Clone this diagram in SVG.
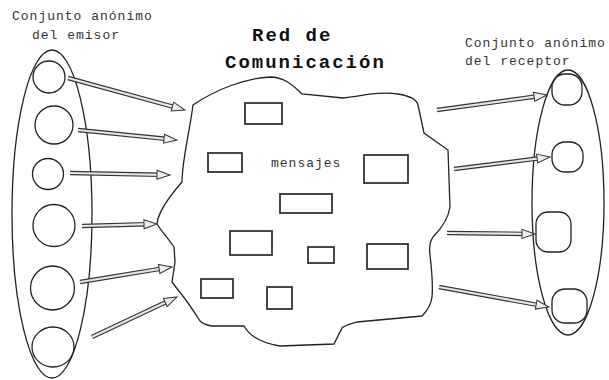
<svg xmlns="http://www.w3.org/2000/svg" width="609" height="380" viewBox="0 0 609 380">
<style>
.t{font-family:"Liberation Mono","DejaVu Sans Mono",monospace;font-size:13px;letter-spacing:1px;fill:#333}
.ti{font-family:"Liberation Mono","DejaVu Sans Mono",monospace;font-size:19px;font-weight:bold;letter-spacing:2px;fill:#111}
.o{fill:none;stroke:#222;stroke-width:1.3}
.b{fill:#fff;stroke:#333;stroke-width:1.8}
.sh{stroke:#333;stroke-width:4.5;fill:none}
.in{stroke:#e6e6e6;stroke-width:2.2;fill:none}
</style>
<defs>
<marker id="ah" markerUnits="userSpaceOnUse" markerWidth="16" markerHeight="12" refX="4" refY="4.5" orient="auto" overflow="visible">
<path d="M0,0 L13,4.5 L0,9 Z" fill="#eee" stroke="#333" stroke-width="1"/>
</marker>
</defs>
<rect width="609" height="380" fill="#fff"/>
<g id="title">
<text class="ti" x="252" y="41">Red de</text>
<text class="ti" x="225" y="68">Comunicación</text>
</g>
<g id="emisor">
<text class="t" x="12" y="20">Conjunto anónimo</text>
<text class="t" x="32" y="39">del emisor</text>
<ellipse class="o" cx="52" cy="214" rx="40" ry="164"/>
<circle class="o" cx="49" cy="77" r="16"/>
<circle class="o" cx="54" cy="125" r="19"/>
<circle class="o" cx="48" cy="174" r="15.5"/>
<circle class="o" cx="54" cy="225.5" r="21"/>
<circle class="o" cx="52.5" cy="288" r="22"/>
<ellipse class="o" cx="53" cy="347" rx="21" ry="20"/>
</g>
<g id="receptor">
<text class="t" x="465" y="47">Conjunto anónimo</text>
<text class="t" x="465" y="65">del receptor</text>
<ellipse class="o" cx="568" cy="202.5" rx="36" ry="132.5"/>
<rect class="o" x="552" y="74" width="30" height="31" rx="13"/>
<rect class="o" x="552" y="142" width="31" height="30" rx="13"/>
<rect class="o" x="536" y="212" width="35" height="40" rx="12"/>
<rect class="o" x="552" y="289" width="35" height="34" rx="13"/>
</g>
<g id="red">
<path class="o" stroke-width="1.6" d="M193,105 C215,90 245,78 270,77 C283,77 292,84 302,94 L343,98 C362,96 378,91 398,94 C410,96 417,100 418,105 L424,133 L448,150 L450,207 C448,220 440,230 433,237 C429,243 429,248 430,255 C432,272 433,286 432,297 C431,305 427,311 422,316 L357,322 C350,324 345,325 342,328 L334,344 L280,346 C262,343 250,337 244,326 L212,326 C205,325 202,323 200,321 C193,310 185,298 178,290 L172,282 L175,262 L174,247 C168,238 162,232 157,224 C158,212 168,198 182,182 C182,160 190,130 193,105 Z"/>
<text class="t" x="271" y="167">mensajes</text>
<rect class="b" x="245" y="103" width="37" height="21"/>
<rect class="b" x="208" y="153" width="34" height="19"/>
<rect class="b" x="364" y="155" width="44" height="28"/>
<rect class="b" x="280" y="194" width="52" height="19"/>
<rect class="b" x="230" y="231" width="42" height="24"/>
<rect class="b" x="308" y="247" width="26" height="16"/>
<rect class="b" x="367" y="244" width="41" height="25"/>
<rect class="b" x="201" y="279" width="32" height="19"/>
<rect class="b" x="267" y="287" width="25" height="22"/>
</g>
<g id="connectors">
<line class="sh" x1="68" y1="78" x2="176.3" y2="107.6"/><line class="in" x1="68" y1="78" x2="176.3" y2="107.6" marker-end="url(#ah)"/>
<line class="sh" x1="78" y1="130" x2="168" y2="139.1"/><line class="in" x1="78" y1="130" x2="168" y2="139.1" marker-end="url(#ah)"/>
<line class="sh" x1="70" y1="173" x2="161" y2="174.8"/><line class="in" x1="70" y1="173" x2="161" y2="174.8" marker-end="url(#ah)"/>
<line class="sh" x1="82" y1="226" x2="148" y2="224.2"/><line class="in" x1="82" y1="226" x2="148" y2="224.2" marker-end="url(#ah)"/>
<line class="sh" x1="80" y1="282" x2="163.1" y2="268.4"/><line class="in" x1="80" y1="282" x2="163.1" y2="268.4" marker-end="url(#ah)"/>
<line class="sh" x1="92" y1="337" x2="168.9" y2="300.8"/><line class="in" x1="92" y1="337" x2="168.9" y2="300.8" marker-end="url(#ah)"/>
<line class="sh" x1="437" y1="110" x2="538.1" y2="96.2"/><line class="in" x1="437" y1="110" x2="538.1" y2="96.2" marker-end="url(#ah)"/>
<line class="sh" x1="454" y1="169" x2="541.1" y2="158.1"/><line class="in" x1="454" y1="169" x2="541.1" y2="158.1" marker-end="url(#ah)"/>
<line class="sh" x1="447" y1="233" x2="526" y2="233.9"/><line class="in" x1="447" y1="233" x2="526" y2="233.9" marker-end="url(#ah)"/>
<line class="sh" x1="439" y1="287" x2="540.1" y2="305.4"/><line class="in" x1="439" y1="287" x2="540.1" y2="305.4" marker-end="url(#ah)"/>
</g>
</svg>
